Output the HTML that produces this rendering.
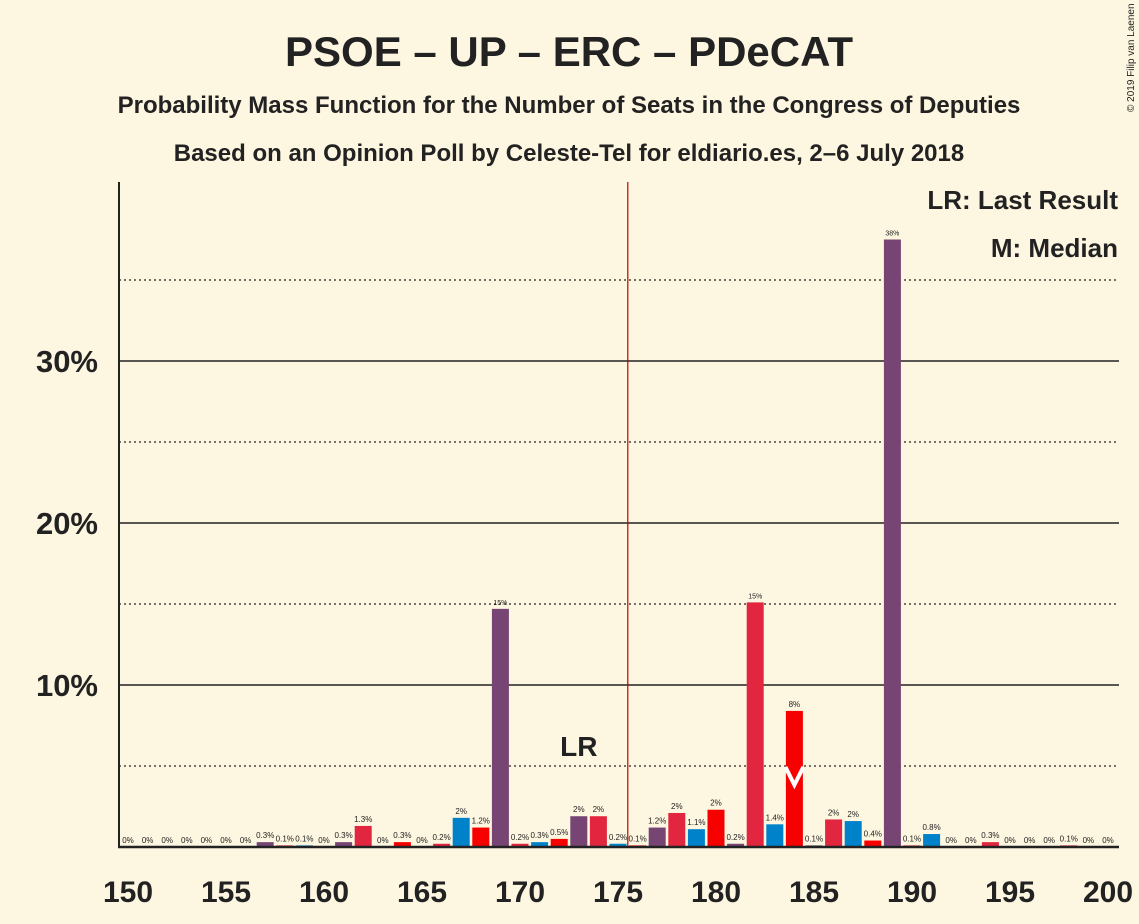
<!DOCTYPE html>
<html><head><meta charset="utf-8"><style>
body{margin:0;background:#FDF6E0;}
svg{display:block;font-family:"Liberation Sans",sans-serif;}
</style></head><body>
<svg id="c" width="1139" height="924">
<rect width="1139" height="924" fill="#FDF6E0"/>
<text x="569" y="66" text-anchor="middle" font-size="42" font-weight="bold" fill="#222">PSOE – UP – ERC – PDeCAT</text>
<text x="569" y="113" text-anchor="middle" font-size="24" font-weight="bold" fill="#222">Probability Mass Function for the Number of Seats in the Congress of Deputies</text>
<text x="569" y="161" text-anchor="middle" font-size="24" font-weight="bold" fill="#222">Based on an Opinion Poll by Celeste-Tel for eldiario.es, 2–6 July 2018</text>
<text x="1134" y="112" font-size="10" fill="#222" transform="rotate(-90 1134 112)">© 2019 Filip van Laenen</text>
<g id="grid"></g>
<g id="bars"></g>
<g id="axes"></g>
<text x="1118" y="209" text-anchor="end" font-size="26" font-weight="bold" fill="#222">LR: Last Result</text>
<text x="1118" y="257" text-anchor="end" font-size="26" font-weight="bold" fill="#222">M: Median</text>
</svg>
<script>
const seats=[150,151,152,153,154,155,156,157,158,159,160,161,162,163,164,165,166,167,168,169,170,171,172,173,174,175,176,177,178,179,180,181,182,183,184,185,186,187,188,189,190,191,192,193,194,195,196,197,198,199,200];
const probs=[0,0,0,0,0,0,0,0.3,0.1,0.1,0,0.3,1.3,0,0.3,0,0.2,1.8,1.2,14.7,0.2,0.3,0.5,1.9,1.9,0.2,0.1,1.2,2.1,1.1,2.3,0.2,15.1,1.4,8.4,0.1,1.7,1.6,0.4,37.5,0.1,0.8,0,0,0.3,0,0,0,0.1,0,0];
const labels=["0%","0%","0%","0%","0%","0%","0%","0.3%","0.1%","0.1%","0%","0.3%","1.3%","0%","0.3%","0%","0.2%","2%","1.2%","15%","0.2%","0.3%","0.5%","2%","2%","0.2%","0.1%","1.2%","2%","1.1%","2%","0.2%","15%","1.4%","8%","0.1%","2%","2%","0.4%","38%","0.1%","0.8%","0%","0%","0.3%","0%","0%","0%","0.1%","0%","0%"];
const xTicks=[150,155,160,165,170,175,180,185,190,195,200];
const yTicks=[10,20,30];
const yMinor=[5,15,25,35];
const lastResult=173, median=184, majority=175.5;
function col(s){return {0:"#F60000",1:"#764574",2:"#E2263F",3:"#0082CA"}[s%4];}
const X=s=>128+(s-150)*19.6, Y=p=>847-p*16.2;
const NS="http://www.w3.org/2000/svg";
function mk(t,a,p){const e=document.createElementNS(NS,t);for(const k in a)e.setAttribute(k,a[k]);p.appendChild(e);return e;}
const g=document.getElementById('grid'),b=document.getElementById('bars'),ax=document.getElementById('axes');
yMinor.forEach(v=>{const l=mk('line',{x1:119,x2:1119,y1:Y(v),y2:Y(v),stroke:'#222','stroke-width':1.3,'stroke-dasharray':'2,3'},g);

});
yTicks.forEach(v=>{const l=mk('line',{x1:119,x2:1119,y1:Y(v),y2:Y(v),stroke:'#222','stroke-width':1.5},g);


const t=mk('text',{x:98,y:Y(v)+11,'text-anchor':'end','font-size':31,'font-weight':'bold',fill:'#222'},ax);t.textContent=v+'%';

});
seats.forEach((s,i)=>{const p=probs[i];const h=Math.max(p*16.2,0);
if(p>0){const r=mk('rect',{x:X(s)-8.5,y:Y(p),width:17,height:h,fill:col(s)},b);

}
const t=mk('text',{x:X(s),y:Y(p)-4,'text-anchor':'middle','font-size':p>10?7:8,fill:'#222'},b);t.textContent=labels[i];

});
const ml=mk('line',{x1:X(majority),x2:X(majority),y1:182,y2:847,stroke:'#C00000','stroke-width':1.2},g);


const lr=mk('text',{x:X(lastResult),y:756,'text-anchor':'middle','font-size':28,'font-weight':'bold',fill:'#222'},ax);lr.textContent='LR';


const mi=probs[seats.indexOf(median)];
const mm=mk('polyline',{points:`${X(median)-9},${Y(mi)+56} ${X(median)},${Y(mi)+74} ${X(median)+9},${Y(mi)+56}`,fill:'none',stroke:'#fff','stroke-width':4},b);


const ya=mk('line',{x1:119,x2:119,y1:182,y2:848,stroke:'#222','stroke-width':2},ax);


const xa=mk('line',{x1:118,x2:1119,y1:847,y2:847,stroke:'#222','stroke-width':2.5},ax);


xTicks.forEach(v=>{const t=mk('text',{x:X(v),y:902,'text-anchor':'middle','font-size':30,'font-weight':'bold',fill:'#222'},ax);t.textContent=v;

});
</script>
</body></html>
